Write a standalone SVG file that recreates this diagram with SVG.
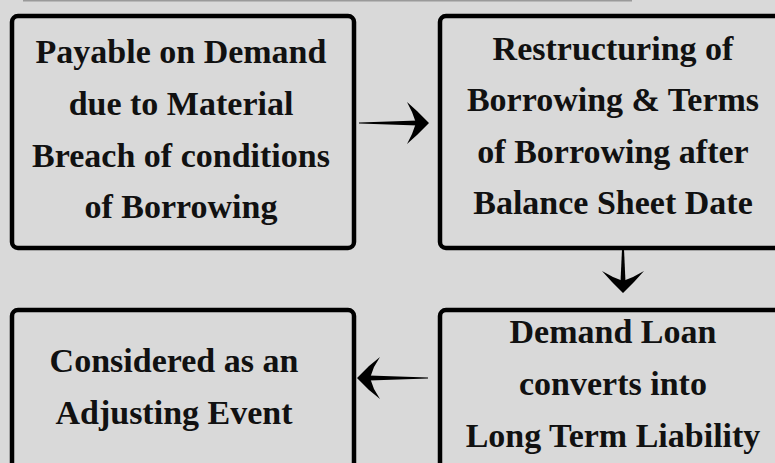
<svg xmlns="http://www.w3.org/2000/svg" width="775" height="463" viewBox="0 0 775 463">
  <style>
    .box { fill: #d9d9d9; stroke: #000; stroke-width: 4.5; }
    .t { font-family: "Liberation Serif", "Times New Roman", serif; font-weight: bold; font-size: 34px; fill: #111; text-anchor: middle; }
    .arr { fill: #000; }
  </style>
  <rect x="0" y="0" width="775" height="463" fill="#d9d9d9"/>
  <rect x="23" y="0" width="609" height="1.5" fill="#9a9a9a"/>

  <g id="node-payable">
    <rect class="box" x="12" y="16" width="342" height="232" rx="6"/>
    <text class="t" x="181" y="63">Payable on Demand</text>
    <text class="t" x="181" y="115">due to Material</text>
    <text class="t" x="181" y="167">Breach of conditions</text>
    <text class="t" x="181" y="218">of Borrowing</text>
  </g>

  <g id="node-restructuring">
    <rect class="box" x="440" y="16" width="360" height="232" rx="6"/>
    <text class="t" x="613" y="60">Restructuring of</text>
    <text class="t" x="613" y="111">Borrowing &amp; Terms</text>
    <text class="t" x="613" y="163">of Borrowing after</text>
    <text class="t" x="613" y="214">Balance Sheet Date</text>
  </g>

  <g id="node-adjusting">
    <rect class="box" x="12" y="310" width="342" height="180" rx="6"/>
    <text class="t" x="174" y="372">Considered as an</text>
    <text class="t" x="174" y="424">Adjusting Event</text>
  </g>

  <g id="node-demand">
    <rect class="box" x="440" y="310" width="360" height="180" rx="6"/>
    <text class="t" x="613" y="343">Demand Loan</text>
    <text class="t" x="613" y="395">converts into</text>
    <text class="t" x="613" y="447">Long Term Liability</text>
  </g>

  <g id="connectors">
    <!-- right arrow -->
    <path class="arr" d="M359,122.5 L418,120.5 L418,125.5 L359,123.5 Z"/>
    <path class="arr" d="M429,123 L417,111 L407,102 L412,112 L416,123 L412,134 L407,144 L417,135 Z"/>
    <!-- down arrow -->
    <path class="arr" d="M622,249 L620.5,282 L625.5,282 L624,249 Z"/>
    <path class="arr" d="M623,293 L612,282 L602,271 L613,277 L623,281 L633,277 L644,271 L634,282 Z"/>
    <!-- left arrow -->
    <path class="arr" d="M428,377.5 L369,375.5 L369,380.5 L428,378.5 Z"/>
    <path class="arr" d="M357,378 L369,366 L380,357 L374,367 L370,378 L374,389 L380,399 L369,390 Z"/>
  </g>
</svg>
